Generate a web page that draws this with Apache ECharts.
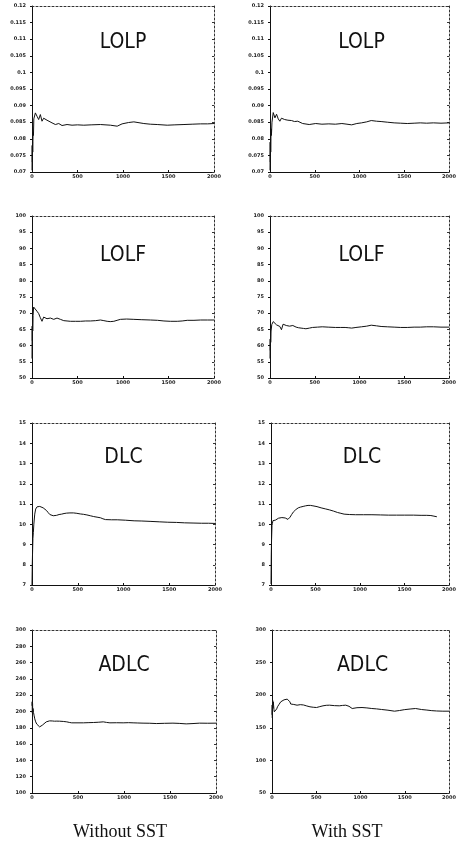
<!DOCTYPE html>
<html><head><meta charset="utf-8">
<script src="https://cdn.jsdelivr.net/npm/echarts@6/dist/echarts.min.js"></script>
<style>html,body{margin:0;padding:0;background:#fff}#c{width:459px;height:844px}</style>
</head><body><div id="c"></div>
<script>
// ---- data ----
const xTicks = [0, 500, 1000, 1500, 2000];
const panelTitles = ['LOLP', 'LOLP', 'LOLF', 'LOLF', 'DLC', 'DLC', 'ADLC', 'ADLC'];
const captions = ['Without SST', 'With SST'];
// y axis ranges [min, max, interval]
const lolpAxis = [0.07, 0.12, 0.005];
const lolfAxis = [50, 100, 5];
const dlcAxis = [7, 15, 1];
const adlcNoAxis = [100, 300, 20];
const adlcSstAxis = [50, 300, 50];

const lolpNoX = [0,2,4,6,8,12,16,20,37,55,73,92,110,128,147,165,183,220,257,294,330,385,440,500,569,650,752,862,936,990,1060,1119,1229,1300,1376,1486,1570,1670,1760,1853,1930,2000];
const lolpNoY = [0.0705,0.078,0.073,0.079,0.076,0.082,0.081,0.0860,0.0878,0.0868,0.0858,0.0873,0.0853,0.0862,0.0868,0.0856,0.0853,0.0848,0.0843,0.0846,0.0840,0.0843,0.0841,0.0842,0.0841,0.0842,0.0843,0.0841,0.0838,0.0845,0.0849,0.0851,0.0846,0.0844,0.0843,0.0841,0.0842,0.0843,0.0844,0.0845,0.0845,0.0846];

const lolpSstX = [0,2,4,6,8,12,16,22,36,55,73,92,110,128,146,164,182,200,219,240,274,310,365,438,511,580,657,730,803,860,912,970,1022,1080,1131,1190,1241,1310,1387,1460,1533,1610,1679,1750,1825,1910,2000];
const lolpSstY = [0.0705,0.079,0.073,0.080,0.076,0.083,0.081,0.085,0.0879,0.0863,0.0874,0.0860,0.0853,0.0862,0.0866,0.0858,0.0860,0.0856,0.0853,0.0855,0.0852,0.0853,0.0846,0.0843,0.0846,0.0844,0.0845,0.0844,0.0846,0.0844,0.0842,0.0846,0.0848,0.0851,0.0855,0.0853,0.0852,0.0850,0.0848,0.0847,0.0846,0.0847,0.0848,0.0847,0.0848,0.0847,0.0848];

const lolfNoX = [0,2,4,6,8,12,18,37,55,73,92,110,128,146,165,183,202,220,239,257,275,294,312,330,349,385,422,480,532,590,642,700,752,790,826,860,899,935,972,1040,1119,1200,1303,1380,1450,1520,1596,1650,1706,1780,1853,1930,2000];
const lolfNoY = [56.0,66.0,61.5,68.0,64.5,69.3,71.9,71.4,70.6,69.9,68.6,67.5,68.8,68.2,68.3,68.7,68.5,68.2,68.1,68.6,68.5,68.0,68.1,67.9,67.7,67.6,67.5,67.5,67.5,67.6,67.6,67.7,67.9,67.7,67.5,67.4,67.5,67.8,68.1,68.2,68.1,68.0,67.9,67.8,67.6,67.5,67.5,67.6,67.8,67.8,67.9,67.9,67.9];

const lolfSstX = [0,2,4,6,8,12,20,36,55,73,92,110,128,146,164,182,200,219,237,255,274,292,320,347,374,401,440,474,530,584,650,730,790,839,880,912,960,1022,1080,1131,1190,1241,1310,1387,1460,1533,1610,1679,1750,1825,1910,2000];
const lolfSstY = [56.0,62.0,58.5,63.5,61.0,64.5,66.5,67.4,66.9,66.4,66.1,65.9,64.9,66.6,66.4,66.2,66.1,66.0,66.2,66.2,65.9,65.7,65.5,65.4,65.3,65.2,65.4,65.6,65.7,65.8,65.7,65.6,65.6,65.6,65.5,65.4,65.6,65.8,66.0,66.3,66.1,65.9,65.8,65.7,65.6,65.6,65.7,65.7,65.8,65.8,65.7,65.7];

const dlcNoX = [0,3,6,10,15,20,30,40,55,70,85,105,122,140,158,176,195,213,232,250,269,296,324,350,379,415,453,490,527,563,600,637,674,711,748,775,803,870,932,1020,1116,1200,1300,1390,1484,1580,1668,1760,1852,1930,2000];
const dlcNoY = [7.0,8.0,8.6,9.3,9.6,10.0,10.5,10.75,10.86,10.89,10.88,10.85,10.81,10.76,10.68,10.58,10.48,10.44,10.42,10.42,10.44,10.48,10.50,10.53,10.55,10.56,10.56,10.54,10.51,10.49,10.46,10.42,10.38,10.35,10.32,10.27,10.23,10.22,10.22,10.20,10.17,10.16,10.14,10.12,10.10,10.09,10.07,10.06,10.05,10.05,10.04];

const dlcSstX = [0,3,6,11,16,22,35,48,66,85,103,122,140,160,177,190,199,206,214,232,250,278,306,333,361,389,416,444,471,517,563,610,656,702,748,785,821,880,950,1040,1134,1230,1318,1410,1502,1600,1686,1750,1796,1830,1863];
const dlcSstY = [7.05,8.5,9.2,9.94,10.05,10.18,10.2,10.2,10.27,10.3,10.32,10.33,10.32,10.31,10.27,10.24,10.22,10.23,10.35,10.48,10.6,10.72,10.81,10.85,10.88,10.91,10.93,10.93,10.91,10.87,10.81,10.76,10.71,10.65,10.58,10.54,10.50,10.48,10.47,10.47,10.47,10.46,10.45,10.45,10.45,10.45,10.44,10.44,10.43,10.40,10.37];

const adlcNoX = [0,2,4,6,8,11,16,22,30,40,52,65,83,98,112,130,155,172,191,220,245,270,299,340,378,405,432,500,559,610,667,720,775,810,847,920,991,1050,1099,1150,1207,1280,1351,1440,1532,1600,1676,1750,1820,1910,2000];
const adlcNoY = [207,212,198,210,200,203.7,199,195.5,191,187.3,184.5,182.4,181.1,182,183.2,185.5,187.3,188.3,188.5,188.4,188.1,188.2,188.1,187.8,187.3,186.6,186.1,186.1,186.1,186.3,186.5,186.8,187.3,186.6,186.1,186.2,186.1,186.3,186.1,185.9,185.7,185.6,185.2,185.5,185.7,185.4,184.8,185.2,185.7,185.6,185.7];

const adlcSstX = [0,2,4,7,10,14,18,22,26,35,44,53,62,80,99,118,136,154,172,188,202,211,220,233,246,265,283,320,356,393,429,466,503,540,576,613,650,705,760,797,833,870,906,960,1017,1072,1127,1182,1237,1310,1384,1440,1494,1560,1622,1690,1750,1805,1860,1930,2000];
const adlcSstY = [170,185,165,192.4,180,190,184.7,178,174.5,177,175.5,179,182.2,186,189.9,191.5,192.9,193.8,194,192,189.9,186.5,183.7,184.5,185.8,185.2,184.7,185.5,185,183.5,182.2,181.5,181.1,182.5,183.7,184.5,184.7,184,183.7,184.3,184.7,183,179.6,180.8,181.1,180.5,179.6,179,178.1,177,175.5,176.5,177.8,178.8,179.6,178,177.2,176.3,175.8,175.5,175.5];

// ---- layout ----
const panels = [
  {x: lolpNoX, y: lolpNoY, ax: lolpAxis, left: 32, top: 6, w: 182, h: 166},
  {x: lolpSstX, y: lolpSstY, ax: lolpAxis, left: 270, top: 6, w: 183, h: 166},
  {x: lolfNoX, y: lolfNoY, ax: lolfAxis, left: 32, top: 216, w: 182, h: 162},
  {x: lolfSstX, y: lolfSstY, ax: lolfAxis, left: 270, top: 216, w: 183, h: 162},
  {x: dlcNoX, y: dlcNoY, ax: dlcAxis, left: 32, top: 423, w: 183, h: 162},
  {x: dlcSstX, y: dlcSstY, ax: dlcAxis, left: 271, top: 423, w: 182, h: 162},
  {x: adlcNoX, y: adlcNoY, ax: adlcNoAxis, left: 32, top: 630, w: 184, h: 163},
  {x: adlcSstX, y: adlcSstY, ax: adlcSstAxis, left: 272, top: 630, w: 181, h: 163}
];
const titleOffsets = [37, 37, 40, 40, 35, 35, 36, 36];

const fmt = v => String(Math.round(v * 100000) / 100000);
const lab = {fontSize: 5, fontWeight: 'bold', color: '#222', fontFamily: 'DejaVu Sans', formatter: fmt};
const grid = [], xAxis = [], yAxis = [], series = [], graphic = [];
panels.forEach((p, i) => {
  grid.push({left: p.left, top: p.top, width: p.w, height: p.h});
  xAxis.push({type: 'value', gridIndex: i, min: xTicks[0], max: xTicks[xTicks.length - 1], interval: xTicks[1] - xTicks[0],
    axisLine: {onZero: false, lineStyle: {color: '#111', width: 1}}, axisTick: {inside: true, length: 2, lineStyle: {color: '#111'}},
    axisLabel: Object.assign({margin: 2}, lab), splitLine: {show: false}});
  yAxis.push({type: 'value', gridIndex: i, min: p.ax[0], max: p.ax[1], interval: p.ax[2],
    axisLine: {show: true, onZero: false, lineStyle: {color: '#111', width: 1}}, axisTick: {show: true, inside: false, length: 2, lineStyle: {color: '#111'}},
    axisLabel: Object.assign({margin: 6}, lab), splitLine: {show: false}});
  series.push({type: 'line', xAxisIndex: i, yAxisIndex: i, showSymbol: false, symbol: 'none',
    lineStyle: {color: '#111', width: 1}, data: p.x.map((v, k) => [v, p.y[k]]), animation: false});
  graphic.push({type: 'text', x: p.left + p.w / 2, y: p.top + titleOffsets[i],
    style: {text: panelTitles[i], textAlign: 'center', textVerticalAlign: 'middle', fill: '#111',
      font: '21px "Liberation Sans Narrow", "DejaVu Sans Condensed", "Arial Narrow", sans-serif'}});
});
panels.forEach((p, i) => {
  xAxis.push({type: 'value', gridIndex: i, position: 'top', min: xTicks[0], max: xTicks[xTicks.length - 1], interval: xTicks[1] - xTicks[0],
    axisLine: {onZero: false, lineStyle: {color: '#333', width: 1, type: [2, 2]}}, axisTick: {show: false}, axisLabel: {show: false}, splitLine: {show: false}});
  yAxis.push({type: 'value', gridIndex: i, position: 'right', min: p.ax[0], max: p.ax[1], interval: p.ax[2],
    axisLine: {show: true, onZero: false, lineStyle: {color: '#333', width: 1, type: [2, 2]}}, axisTick: {show: true, inside: true, length: 2, lineStyle: {color: '#333'}},
    axisLabel: {show: false}, splitLine: {show: false}});
});
graphic.push({type: 'text', x: 120, y: 832, style: {text: captions[0], textAlign: 'center', textVerticalAlign: 'middle', fill: '#111', font: '18px "Liberation Serif", "DejaVu Serif", serif'}});
graphic.push({type: 'text', x: 347, y: 832, style: {text: captions[1], textAlign: 'center', textVerticalAlign: 'middle', fill: '#111', font: '18px "Liberation Serif", "DejaVu Serif", serif'}});

const chart = echarts.init(document.getElementById('c'), null, {renderer: 'canvas'});
chart.setOption({animation: false, backgroundColor: '#fff', grid, xAxis, yAxis, series, graphic});
</script>
</body></html>
